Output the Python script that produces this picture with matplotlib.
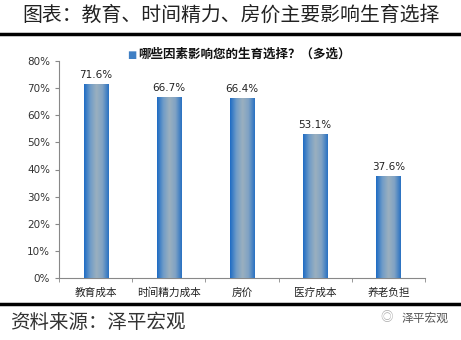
import numpy as np
import matplotlib
matplotlib.use("Agg")
import matplotlib.pyplot as plt
from matplotlib.colors import LinearSegmentedColormap
from matplotlib.ticker import FuncFormatter

plt.rcParams['font.family'] = ['Noto Sans CJK SC', 'DejaVu Sans']

categories = ["教育成本", "时间精力成本", "房价", "医疗成本", "养老负担"]
values = [71.6, 66.7, 66.4, 53.1, 37.6]
yticks = [0, 10, 20, 30, 40, 50, 60, 70, 80]
series_name = "哪些因素影响您的生育选择？（多选）"
title = "图表：教育、时间精力、房价主要影响生育选择"
source = "资料来源：泽平宏观"
mark = "泽平宏观"

fig = plt.figure(figsize=(4.61, 3.40), dpi=100)
ax = fig.add_axes([59 / 461, 1 - 278 / 340, 366 / 461, 217 / 340])

x = np.arange(len(categories))
bars = ax.bar(x, values, width=0.33, color="#4a82bf", zorder=2)

# horizontal gradient: dark blue edges, grey-blue middle
grad = LinearSegmentedColormap.from_list(
    "g", ["#1f6cc4", "#6f9cc8", "#9bb0bf", "#7fa2c4", "#2a72c2"])
row = np.linspace(0, 1, 64).reshape(1, -1)
for b in bars:
    x0, w, h = b.get_x(), b.get_width(), b.get_height()
    im = ax.imshow(row, cmap=grad, aspect="auto", extent=(x0, x0 + w, 0, h),
                   zorder=3, interpolation="bilinear")
    im.set_clip_path(b)
    ax.text(x0 + w / 2, h + 1.5, f"{h:.1f}%", ha="center", va="bottom",
            fontsize=7.5, color="#222222", family=["DejaVu Sans"])

ax.set_xlim(-0.5, len(categories) - 0.5)
ax.set_ylim(0, 80)
ax.set_yticks(yticks)
ax.yaxis.set_major_formatter(FuncFormatter(lambda v, p: f"{v:.0f}%"))
ax.set_xticks(x)
ax.set_xticklabels(categories, fontsize=7.7, color="#222222")
ax.set_xticks(np.arange(len(categories) + 1) - 0.5, minor=True)
ax.tick_params(axis="x", which="major", length=0, pad=7)
ax.tick_params(axis="x", which="minor", length=3, color="#888888", direction="out")
ax.tick_params(axis="y", length=3, color="#888888", labelsize=7.5,
               labelcolor="#333333")
for lab in ax.get_yticklabels():
    lab.set_family(["DejaVu Sans"])
for s in ["top", "right"]:
    ax.spines[s].set_visible(False)
for s in ["left", "bottom"]:
    ax.spines[s].set_color("#888888")
    ax.spines[s].set_linewidth(0.8)

# legend
fig.text(127 / 461, 1 - 55 / 340, "■", color="#3f7fc4", fontsize=7,
         ha="left", va="center", family=["DejaVu Sans"])
fig.text(138 / 461, 1 - 54 / 340, series_name, fontsize=9, fontweight="bold",
         ha="left", va="center", color="#111111")

# title and frame lines
fig.text(22 / 461, 1 - 15 / 340, title, fontsize=14.3, ha="left", va="center",
         color="#222222")
fig.add_artist(plt.Line2D([0, 1], [1 - 34 / 340] * 2, color="black", lw=2.5))
fig.add_artist(plt.Line2D([0, 1], [1 - 304 / 340] * 2, color="black", lw=2.5))
fig.text(10 / 461, 1 - 322 / 340, source, fontsize=14, style="italic",
         ha="left", va="center", color="#333333")
fig.text(393 / 461, 1 - 318 / 340, "◎", fontsize=9, ha="right", va="center",
         color="#aaaaaa")
fig.text(448 / 461, 1 - 318 / 340, mark, fontsize=8.5, ha="right", va="center",
         color="#555555")

fig.savefig("out.png", dpi=100)
